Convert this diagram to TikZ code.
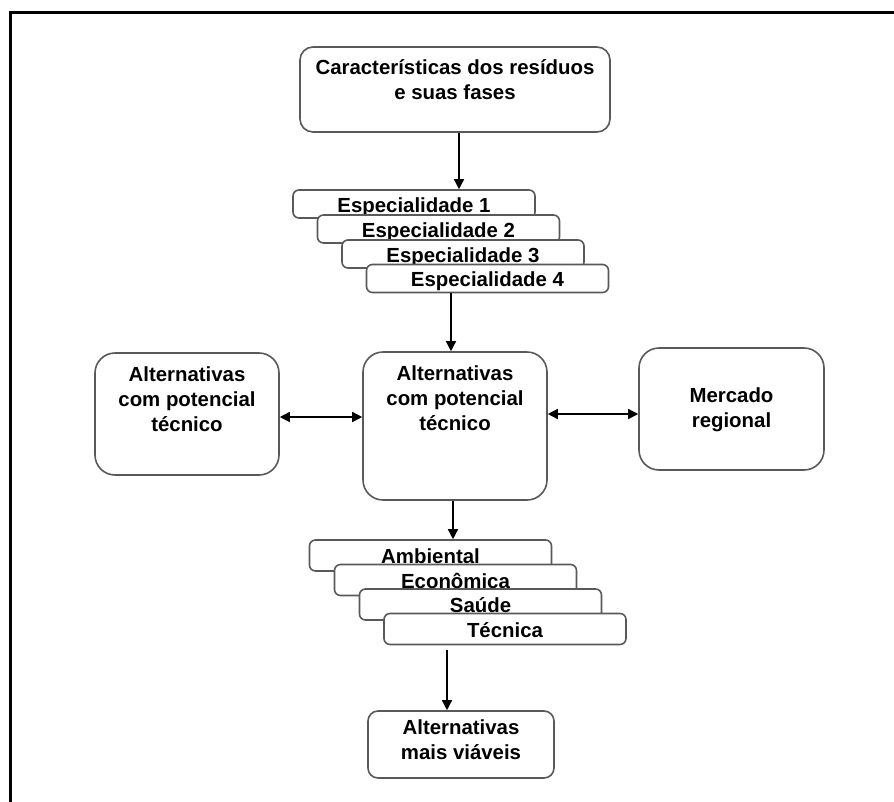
\documentclass[tikz,border=0pt]{standalone}
\usepackage{fontspec}
\setmainfont{Liberation Sans}
\usetikzlibrary{arrows.meta,calc}
\begin{document}
\begin{tikzpicture}[x=1pt,y=-1pt,
  box/.style={draw=black!65, line width=1.6pt, fill=white, inner sep=0pt},
  bigbox/.style={box, rounded corners=20pt},
  layer/.style={box, rounded corners=6pt, minimum width=242pt,
    font=\fontsize{20.4}{25}\selectfont\bfseries, text height=16.5pt, text depth=0pt},
  txt/.style={font=\fontsize{20.4}{25}\selectfont\bfseries, align=center, inner sep=0pt},
  arr/.style={line width=1.4pt, -{Triangle[length=10pt,width=10pt]}},
  darr/.style={line width=1.5pt, {Triangle[length=10pt,width=10pt]}-{Triangle[length=10pt,width=10pt]}},
]
\useasboundingbox (0,0) rectangle (894,801);
\draw[line width=3pt] (10,806) -- (10,12) -- (900,12);

\node[box, rounded corners=13pt, minimum width=310pt, minimum height=85pt,
  label={[txt,anchor=north,yshift=-13.5pt]north:Características dos resíduos\\e suas fases}] (top) at (455,89.5) {};

\node[layer, minimum height=28pt] (s1) at (414,204) {Especialidade 1};
\node[layer, minimum height=28pt] (s2) at (438.5,229) {Especialidade 2};
\node[layer, minimum height=28pt] (s3) at (463,254) {Especialidade 3};
\node[layer, minimum height=28pt] (s4) at (487.5,278.5) {Especialidade 4};

\node[bigbox, minimum width=184pt, minimum height=148pt,
  label={[txt,anchor=north,yshift=-14pt]north:Alternativas\\com potencial\\técnico}] (c) at (455,426) {};
\node[bigbox, minimum width=184pt, minimum height=122pt,
  label={[txt,anchor=north,yshift=-14pt]north:Alternativas\\com potencial\\técnico}] (l) at (187,414) {};
\node[bigbox, minimum width=185pt, minimum height=122pt,
  label={[txt,anchor=north,yshift=-40pt]north:Mercado\\regional}] (m) at (731.5,409) {};

\node[layer, minimum height=31pt] (a1) at (430.5,555.5) {Ambiental};
\node[layer, minimum height=31pt] (a2) at (455.5,580) {Econômica};
\node[layer, minimum height=31pt] (a3) at (480.5,604.5) {Saúde};
\node[layer, minimum height=31pt] (a4) at (505,629) {Técnica};

\node[box, rounded corners=10pt, minimum width=186pt, minimum height=67pt,
  label={[txt,anchor=north,yshift=-9pt]north:Alternativas\\mais viáveis}] (f) at (461,744.5) {};

\coordinate (t1) at ($(top.south)+(4,0)$);
\draw[arr] (t1) -- (t1 |- s1.north);
\coordinate (c1) at ($(c.north)+(-4,0)$);
\draw[arr] (c1 |- s4.south) -- (c1);
\coordinate (l1) at ($(l.east)+(0,3)$);
\draw[darr] (l1) -- (l1 -| c.west);
\coordinate (m1) at ($(m.west)+(0,5)$);
\draw[darr] (m1 -| c.east) -- (m1);
\coordinate (c2) at ($(c.south)+(-2,0)$);
\draw[arr] (c2) -- (c2 |- a1.north);
\coordinate (f1) at ($(f.north)+(-14,0)$);
\coordinate (f0) at ($(f1 |- a4.south)+(0,5)$);
\draw[arr] (f0) -- (f1);
\end{tikzpicture}
\end{document}
